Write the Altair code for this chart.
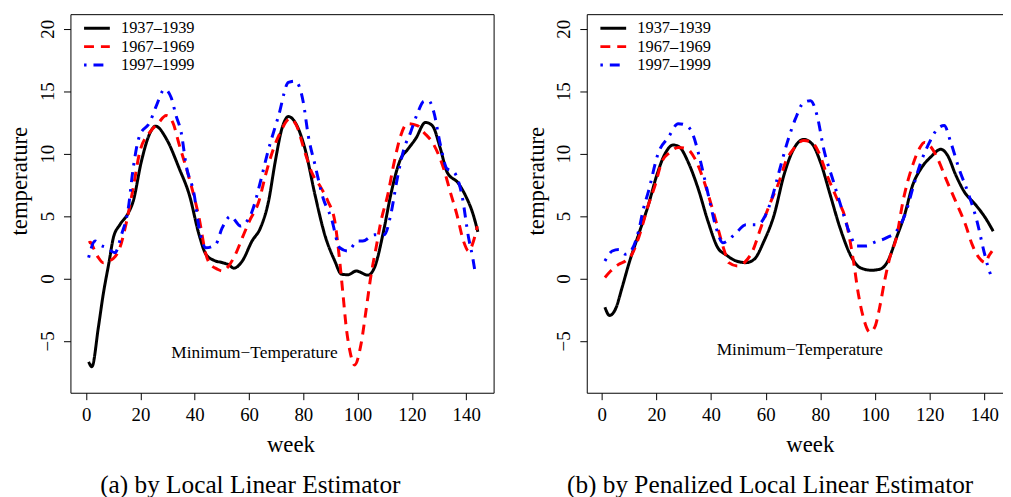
import altair as alt
import pandas as pd

FONT = "Liberation Serif, DejaVu Serif, serif"
SERIES = ["1937–1939", "1967–1969", "1997–1999"]
COLORS = ["#000000", "#ff0000", "#0000ff"]
DASHES = [[1, 0], [10, 7], [2.5, 7, 10, 7]]
X_TICKS = [0, 20, 40, 60, 80, 100, 120, 140]
Y_TICKS = [-5, 0, 5, 10, 15, 20]
LABEL_TEXT = "Minimum−Temperature"

# ---- panel (a): local linear estimator ----
wk_a_1937 = [0.9, 2.1, 4.5, 6.3, 8.5, 10.0, 12.4, 15.5, 17.3, 20.3, 23.4, 25.6, 29.5, 34.3, 38.0,
             41.6, 44.1, 47.0, 50.2, 52.5, 54.4, 57.5, 61.1, 64.2, 67.2, 69.6, 72.1, 74.5, 77.0,
             80.6, 84.3, 87.9, 91.6, 94.0, 96.4, 99.5, 103.8, 106.2, 109.8, 112.2, 115.9, 118.3,
             121.4, 125.0, 127.5, 130.5, 132.9, 137.2, 139.6, 142.6, 144.3]
t_a_1937 = [-6.67, -7.06, -3.9, -1.24, 1.4, 3.25, 4.3, 5.24, 6.17, 9.34, 11.6, 12.2, 11.2, 8.8, 6.7,
            3.5, 1.94, 1.46, 1.27, 1.1, 0.83, 1.4, 3.0, 4.05, 6.2, 9.3, 12.0, 12.97, 12.5,
            10.4, 6.7, 3.5, 1.4, 0.35, 0.3, 0.6, 0.27, 0.87, 4.05, 6.7, 9.6, 10.3,
            11.2, 12.5, 12.25, 10.4, 8.55, 7.6, 6.7, 5.1, 3.73]

wk_a_1967 = [0.9, 1.5, 3.0, 4.5, 6.3, 8.1, 10.0, 12.4, 14.9, 17.3, 19.7, 23.4, 26.4, 29.5, 31.9,
             34.3, 38.0, 41.6, 44.1, 45.3, 48.3, 50.2, 52.0, 55.0, 57.5, 60.1, 63.6, 66.1, 69.0,
             71.5, 75.1, 77.5, 80.6, 83.0, 86.7, 89.1, 91.6, 93.4, 94.6, 95.8, 97.1, 98.9, 101.3,
             103.1, 105.0, 106.8, 108.6, 111.1, 113.5, 115.9, 118.3, 122.0, 124.4, 128.1, 131.7,
             134.1, 136.6, 139.0, 140.9, 142.7, 144.1]
t_a_1967 = [2.86, 2.9, 2.3, 1.67, 1.27, 1.4, 1.6, 2.46, 4.58, 7.22, 10.1, 11.7, 12.4, 13.05, 12.5,
            10.7, 8.0, 4.84, 1.94, 1.27, 0.75, 0.6, 0.87, 1.94, 3.25, 4.58, 6.17, 8.3, 10.4,
            11.7, 12.8, 12.25, 10.1, 8.55, 7.2, 6.17, 4.58, 1.4, -1.24, -3.9, -5.74, -6.93, -5.2,
            -2.56, 0.35, 2.46, 4.58, 6.7, 9.34, 11.46, 12.4, 12.25, 11.7, 10.7, 8.8,
            6.96, 5.1, 3.0, 2.2, 3.0, 4.2]

wk_a_1997 = [0.9, 3.3, 5.0, 7.5, 10.6, 13.0, 15.5, 17.3, 19.7, 23.4, 25.8, 28.9, 31.3, 33.1, 35.0,
             36.8, 39.8, 41.6, 44.1, 47.7, 50.1, 53.2, 56.9, 58.7, 61.1, 64.2, 66.6, 70.9, 74.5,
             77.0, 80.0, 81.8, 84.3, 87.3, 90.3, 93.4, 96.4, 100.0, 101.9, 106.2, 109.8, 112.2,
             114.6, 117.1, 119.5, 122.0, 124.4, 126.2, 128.1, 130.5, 132.9, 135.4, 138.4, 140.9,
             142.4, 143.3]
t_a_1997 = [1.67, 3.0, 2.7, 2.46, 2.06, 3.5, 5.6, 8.8, 11.46, 12.5, 13.8, 15.16, 14.5, 13.05, 11.7,
            9.1, 6.7, 4.05, 2.46, 2.73, 4.05, 4.98, 4.2, 4.45, 5.37, 7.75, 9.87, 13.05, 15.7,
            15.8, 14.1, 11.46, 9.1, 6.43, 4.84, 2.46, 2.2, 3.0, 3.0, 3.5, 3.5, 5.1,
            8.0, 10.4, 11.7, 13.2, 14.2, 14.24, 13.3, 10.7, 8.8, 8.55, 6.7, 3.25,
            1.67, 0.48]

# ---- panel (b): penalized local linear estimator ----
wk_b_1937 = [1.2, 2.9, 5.1, 7.5, 9.9, 13.5, 17.1, 20.2, 23.2, 26.2, 28.6, 31.6, 35.3, 38.9, 42.5,
             45.5, 48.6, 52.8, 55.8, 59.4, 63.1, 66.7, 70.3, 73.9, 76.9, 80.0, 83.6, 87.2, 91.5,
             94.5, 98.7, 101.7, 104.7, 107.8, 110.8, 113.8, 116.8, 120.4, 124.1, 126.5, 129.5,
             132.6, 136.8, 140.4, 143.2]
t_b_1937 = [-2.3, -2.96, -2.43, -0.71, 1.14, 3.52, 5.9, 8.29, 10.0, 10.7, 10.5, 9.34, 7.2, 4.58, 2.46,
            1.9, 1.46, 1.27, 1.54, 3.0, 5.1, 8.3, 10.4, 11.14, 10.8, 9.34, 6.7, 4.05, 1.67,
            0.87, 0.66, 0.74, 1.4, 3.25, 5.1, 7.5, 8.8, 9.74, 10.35, 9.87, 8.3,
            6.96, 5.9, 4.84, 3.79]

wk_b_1967 = [1.2, 3.3, 6.3, 8.7, 11.1, 13.5, 17.1, 19.6, 22.0, 25.0, 28.0, 31.1, 34.1, 37.1, 40.1,
             42.5, 44.9, 46.5, 49.8, 52.2, 55.2, 58.2, 61.9, 64.9, 67.3, 70.3, 73.9, 76.9, 79.4,
             82.4, 86.0, 89.1, 92.1, 93.9, 95.7, 98.1, 99.9, 101.7, 103.5, 105.4, 107.8, 110.2,
             113.8, 116.2, 118.0, 119.9, 122.9, 125.9, 129.5, 133.1, 135.5, 138.0, 140.4, 141.6,
             142.8]
t_b_1967 = [0.08, 0.6, 1.14, 1.4, 1.94, 3.25, 5.9, 7.5, 9.34, 10.1, 10.5, 10.4, 9.6, 8.0, 5.9,
            4.05, 2.2, 1.27, 1.0, 1.27, 2.2, 4.05, 6.17, 7.75, 9.34, 10.4, 11.06, 10.9, 10.1,
            8.3, 6.43, 4.84, 1.4, -1.24, -3.1, -4.29, -3.9, -2.3, -0.18, 1.67, 3.25, 6.17,
            9.1, 10.4, 10.9, 10.67, 9.6, 8.0, 6.17, 4.3, 2.73, 1.67, 1.27, 1.8,
            2.2]

wk_b_1997 = [1.2, 3.9, 6.3, 8.7, 11.1, 13.5, 15.3, 17.1, 20.8, 24.4, 28.0, 31.1, 33.5, 35.9, 39.0,
             41.9, 44.3, 48.6, 52.8, 57.0, 60.0, 61.9, 64.9, 67.9, 70.9, 73.9, 76.4, 78.8, 81.2,
             84.8, 87.8, 90.9, 93.3, 96.9, 99.3, 104.1, 107.8, 111.4, 113.8, 116.8, 119.9, 122.9,
             125.3, 127.7, 130.7, 134.3, 137.3, 139.8, 141.4, 142.2]
t_b_1997 = [1.4, 2.2, 2.33, 1.94, 2.33, 3.79, 5.6, 6.96, 10.1, 11.3, 12.4, 12.25, 11.46, 9.6, 6.7,
            4.05, 2.86, 3.52, 4.3, 4.3, 5.1, 6.17, 8.55, 10.9, 12.8, 14.1, 14.24, 13.05, 10.4,
            7.75, 5.6, 3.52, 2.6, 2.6, 2.86, 3.25, 3.79, 5.37, 7.22, 9.34, 10.9, 12.0,
            12.25, 10.9, 8.8, 6.7, 4.58, 2.2, 0.87, 0.35]

label_pos_a = [62.0, -6.0]
label_pos_b = [72.5, -5.7]
CAPTION_A = "(a) by Local Linear Estimator"
CAPTION_B = "(b) by Penalized Local Linear Estimator"

Y_DOMAIN = [-9.15, 21.17]
X_DOMAIN_A = [-5.8, 150.1]
X_DOMAIN_B = [-5.44, 146.8]


def make_df(weeks, temps):
    rows = []
    for s, ws, ts in zip(SERIES, weeks, temps):
        for w, t in zip(ws, ts):
            rows.append({"week": w, "temp": t, "series": s})
    return pd.DataFrame(rows)


def panel(df, label_pos, caption, width, xdom, boxed, cap_dx, week_x):
    xscale = alt.Scale(domain=xdom, nice=False, zero=False)
    yscale = alt.Scale(domain=Y_DOMAIN, nice=False, zero=False)
    xaxis = alt.Axis(values=X_TICKS, title="week", domain=not boxed, domainColor="#000",
                     labelFont=FONT, titleFont=FONT,
                     titleX=week_x, titleY=59, titleAlign="center", titleBaseline="alphabetic",
                     labelPadding=6)
    yaxis = alt.Axis(values=Y_TICKS, title="temperature", domain=not boxed, domainColor="#000",
                     labelFont=FONT, titleFont=FONT,
                     labelAngle=270, labelAlign="center", labelBaseline="bottom", labelPadding=6,
                     titleX=-44, titleY=168, titleAngle=270, titleAlign="center",
                     titleBaseline="alphabetic")
    leg = alt.Legend(orient="none", legendX=18.5, legendY=6, title=None,
                     symbolType="M-2,0H2", symbolSize=169, symbolStrokeWidth=3,
                     symbolFillColor="transparent",
                     labelFont=FONT, labelFontSize=16.5,
                     labelColor="#000", labelOffset=16, rowPadding=1.5, padding=0)
    lines = alt.Chart(df).mark_line(strokeWidth=3, interpolate="monotone").encode(
        x=alt.X("week:Q", scale=xscale, axis=xaxis),
        y=alt.Y("temp:Q", scale=yscale, axis=yaxis),
        color=alt.Color("series:N", scale=alt.Scale(domain=SERIES, range=COLORS), legend=leg),
        strokeDash=alt.StrokeDash("series:N", scale=alt.Scale(domain=SERIES, range=DASHES),
                                  legend=leg),
    )
    ldf = pd.DataFrame({"week": [label_pos[0]], "temp": [label_pos[1]], "label": [LABEL_TEXT]})
    if boxed:
        text_x = alt.X("week:Q", scale=xscale, axis=xaxis)
    else:
        text_x = alt.X("week:Q", scale=xscale,
                       axis=alt.Axis(orient="top", labels=False, ticks=False, title=None,
                                     domain=True, domainColor="#000", grid=False))
    text = alt.Chart(ldf).mark_text(font=FONT, fontSize=17.5, color="#000").encode(
        x=text_x,
        y=alt.Y("temp:Q", scale=yscale, axis=yaxis),
        text="label:N",
    )
    layer = alt.layer(lines, text).properties(
        width=width, height=382,
        title=alt.TitleParams(caption, orient="bottom", font=FONT, fontSize=25.5,
                              fontWeight="normal", color="#000", anchor="middle",
                              dx=cap_dx, offset=17),
    )
    if boxed:
        layer = layer.properties(view=alt.ViewBackground(stroke="#000", strokeWidth=1))
    else:
        layer = layer.properties(view=alt.ViewBackground(stroke=None)).resolve_axis(x="independent")
    return layer


df_a = make_df([wk_a_1937, wk_a_1967, wk_a_1997], [t_a_1937, t_a_1967, t_a_1997])
df_b = make_df([wk_b_1937, wk_b_1967, wk_b_1997], [t_b_1937, t_b_1967, t_b_1997])

pa = panel(df_a, label_pos_a, CAPTION_A, 427, X_DOMAIN_A, True, -32, 222)
pb = panel(df_b, label_pos_b, CAPTION_B, 420, X_DOMAIN_B, False, -25, 225)

chart = alt.hconcat(pa, pb, spacing=94, bounds="flush").resolve_scale(
    color="independent", strokeDash="independent"
).resolve_legend(
    color="independent", strokeDash="independent"
).configure(
    background="white",
    padding={"left": 0, "top": 3, "right": 0, "bottom": 0},
).configure_view(stroke=None).configure_axis(
    grid=False, tickColor="#000", tickSize=7, tickWidth=1,
    labelFont=FONT, labelFontSize=19, labelColor="#000",
    titleFont=FONT, titleFontSize=23, titleFontWeight="normal", titleColor="#000",
)

chart.save("out.html", embed_options={"renderer": "svg", "actions": False})
